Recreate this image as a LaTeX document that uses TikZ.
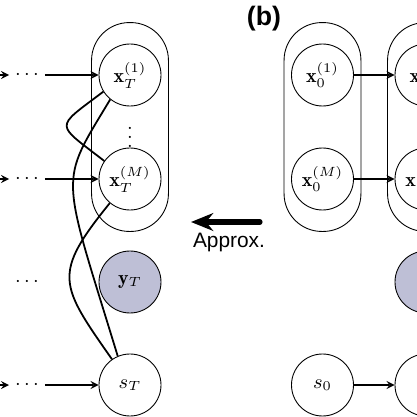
\documentclass[tikz,border=0pt]{standalone}
\usepackage{fontspec}
\newfontfamily\labelfont{Liberation Sans}
\usetikzlibrary{arrows.meta,fit}
\definecolor{obsfill}{RGB}{190,191,214}

\begin{document}
\begin{tikzpicture}[x=0.45pt, y=0.45pt,
    var/.style={draw, circle, minimum size=27.9pt, inner sep=0pt, font=\fontsize{9}{11}\selectfont, fill=#1},
    var/.default=white,
    plate/.style={draw, rounded corners=17pt, inner xsep=3.15pt, inner ysep=9.45pt},
    arrow/.style={->, >=stealth, semithick},
    link/.style={thick},
    dots/.style={font=\fontsize{9}{11}\selectfont, inner sep=2.5pt}
]
    \useasboundingbox (0,0) rectangle (417,-417);
    \clip (0,0) rectangle (417,-417);

    % Panel label
    \node[font=\labelfont\bfseries\fontsize{12}{14}\selectfont] (panelb) at (264,-19) {(b)};

    % Time T (left)
    \node[var] (xT1) at (130,-75) {$\mathbf{x}_T^{(1)}$};
    \node[var] (xTM) at (130,-179) {$\mathbf{x}_T^{(M)}$};
    \node[var=obsfill] (yT) at (130,-282) {$\mathbf{y}_T$};
    \node[var] (sT) at (130,-385) {$s_T$};
    \node[font=\fontsize{9}{11}\selectfont, inner sep=0pt] (vdT) at (130,-131) {$\vdots$};
    \node[plate, fit=(xT1)(xTM)] (plateT) {};

    % Time 0 (right)
    \node[var] (x01) at (322.5,-75) {$\mathbf{x}_0^{(1)}$};
    \node[var] (x0M) at (322.5,-179) {$\mathbf{x}_0^{(M)}$};
    \node[var] (s0) at (322.5,-385) {$s_0$};
    \node[plate, fit=(x01)(x0M)] (plate0) {};

    % Time 1 (cut off)
    \node[var] (x11) at (426,-75) {$\mathbf{x}_1^{(1)}$};
    \node[var] (x1M) at (426,-179) {$\mathbf{x}_1^{(M)}$};
    \node[var=obsfill] (y1) at (426,-282) {};
    \node[var] (s1) at (426,-385) {};
    \node[plate, fit=(x11)(x1M)] (plate1) {};

    % Incoming chains
    \coordinate (inT1) at (-20,-75);
    \coordinate (inTM) at (-20,-179);
    \coordinate (insT) at (-20,-385);
    \node[dots] (dT1) at (27,-75) {$\cdots$};
    \node[dots] (dTM) at (27,-179) {$\cdots$};
    \node[dots] (dyT) at (27,-282) {$\cdots$};
    \node[dots] (dsT) at (27,-385) {$\cdots$};
    \draw[arrow] (inT1) -- (dT1);
    \draw[arrow] (dT1) -- (xT1);
    \draw[arrow] (inTM) -- (dTM);
    \draw[arrow] (dTM) -- (xTM);
    \draw[arrow] (insT) -- (dsT);
    \draw[arrow] (dsT) -- (sT);

    % Arrows 0 -> 1
    \draw[arrow] (x01) -- (x11);
    \draw[arrow] (x0M) -- (x1M);
    \draw[arrow] (s0) -- (s1);

    % Links at time T
    \draw[link] (xT1.212) to[out=217, in=142, looseness=2.3] (xTM.145);
    \draw[link] (xT1.231) to[out=239, in=107, out looseness=1, in looseness=1.95] (sT.113);
    \draw[link] (xTM.230) to[out=231, in=125, looseness=1.5] (sT.125);

    % Approximation arrow
    \coordinate (apS) at (260,-222);
    \coordinate (apE) at (191,-222);
    \draw[line width=2.3pt, line cap=round, -{Stealth[length=10pt, width=8pt]}] (apS) -- (apE);
    \node[font=\labelfont\fontsize{9.4}{11}\selectfont, anchor=base] (aplabel) at (229,-247) {Approx.};

\end{tikzpicture}
\end{document}
